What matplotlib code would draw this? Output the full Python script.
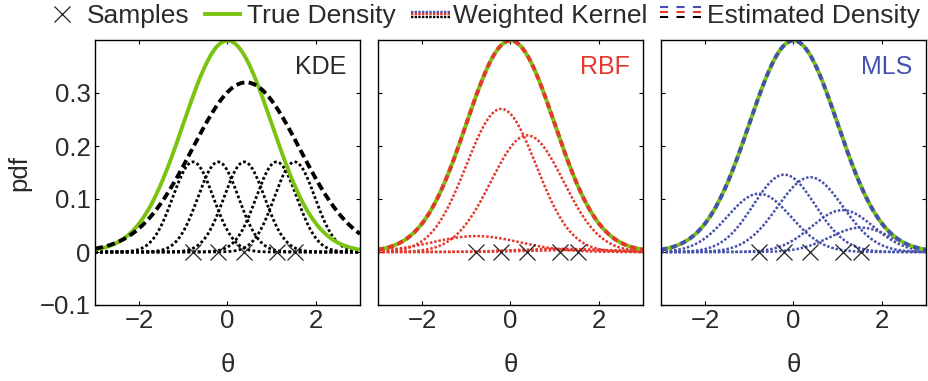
import numpy as np
import matplotlib
matplotlib.use("Agg")
import matplotlib.pyplot as plt

plt.rcParams['font.family'] = ['Liberation Sans', 'DejaVu Sans']
plt.rcParams['font.size'] = 18.5

# === data ===
samples = [-0.78, -0.21, 0.38, 1.11, 1.52]

true_mean = 0.0
true_sd = 1.0

# KDE: kernel peaks / widths, and the estimated density (gaussian-ish)
kde_peaks = [0.17, 0.17, 0.17, 0.17, 0.17]
kde_sds = [0.46, 0.46, 0.46, 0.46, 0.46]
kde_est_mean = 0.42
kde_est_sd = 1.22
kde_est_peak = 0.32

# RBF weighted kernels (centred on the samples)
rbf_peaks = [0.030, 0.270, 0.220, 0.006, 0.004]
rbf_sds = [1.00, 0.79, 0.82, 1.00, 1.00]

# MLS weighted kernels
mls_peaks = [0.110, 0.146, 0.141, 0.079, 0.046]
mls_sds = [0.72, 0.70, 0.74, 0.70, 0.70]

xlim = (-3, 3)
ylim = (-0.1, 0.4)
yticks = [-0.1, 0, 0.1, 0.2, 0.3]
ytick_labels = ['\u22120.1', '0', '0.1', '0.2', '0.3']
xticks = [-2, 0, 2]
xtick_labels = ['\u22122', '0', '2']

legend_labels = ['Samples', 'True Density', 'Weighted Kernel', 'Estimated Density']

GREEN = '#7ac410'
RED = '#e3382b'
BLUE = '#4651ad'
BLACK = '#000000'
TEXT = '#2a2a2a'

x = np.linspace(xlim[0], xlim[1], 600)


def bump(mu, sd, peak):
    return peak * np.exp(-(x - mu) ** 2 / (2 * sd ** 2))


true_pdf = np.exp(-(x - true_mean) ** 2 / (2 * true_sd ** 2)) / (true_sd * np.sqrt(2 * np.pi))

fig = plt.figure(figsize=(9.29, 3.81), dpi=100)

lefts = [95, 378, 661]
panels = [
    ('KDE', BLACK, TEXT, kde_peaks, kde_sds),
    ('RBF', RED, RED, rbf_peaks, rbf_sds),
    ('MLS', BLUE, BLUE, mls_peaks, mls_sds),
]

for i, (name, col, tcol, peaks, sds) in enumerate(panels):
    ax = fig.add_axes([lefts[i] / 929, 76 / 381, 265 / 929, 265 / 381])

    # weighted kernels
    if name == 'KDE':
        k_lw, k_dash = 2.0, (1, 0.85)
    else:
        k_lw, k_dash = 1.8, (1, 0.75)
    for mu, sd, pk in zip(samples, sds, peaks):
        ax.plot(x, bump(mu, sd, pk), color=col, lw=k_lw, dashes=k_dash,
                dash_capstyle='butt')

    # true density
    ax.plot(x, true_pdf, color=GREEN, lw=2.8, solid_capstyle='butt')

    # estimated density
    if name == 'KDE':
        est = bump(kde_est_mean, kde_est_sd, kde_est_peak)
        ax.plot(x, est, color=BLACK, lw=2.8, dashes=(2.1, 1.1), dash_capstyle='butt')
    else:
        ax.plot(x, true_pdf, color=col, lw=2.8, dashes=(1.6, 1.0), dash_capstyle='butt')

    # samples
    ax.plot(samples, np.zeros(len(samples)), linestyle='none', marker='x',
            markersize=11, markeredgewidth=0.9, color='#222222')

    ax.set_xlim(*xlim)
    ax.set_ylim(*ylim)
    ax.set_xticks(xticks)
    ax.set_yticks(yticks)
    ax.tick_params(direction='in', length=3, width=0.8, top=True, right=True,
                   labelsize=18.5, colors='black', labelcolor=TEXT, pad=3)
    ax.set_yticklabels(ytick_labels)
    ax.set_xticklabels(xtick_labels)
    if i > 0:
        ax.tick_params(labelleft=False)
    for sp in ax.spines.values():
        sp.set_linewidth(1.0)
    ax.set_xlabel('\u03b8', color=TEXT, labelpad=14)
    if i == 0:
        ax.set_ylabel('pdf', color=TEXT, labelpad=6)
    ax.text(0.95, 0.90, name, transform=ax.transAxes, ha='right', va='center',
            fontsize=18, color=tcol)

# === legend on top, laid out in pixel coords of an overlay axes ===
lg = fig.add_axes([0, 0, 1, 1], facecolor='none')
lg.set_xlim(0, 929)
lg.set_ylim(381, 0)
lg.axis('off')

text_x = [87, 247, 453, 707]
base_y = 23
for tx, lab in zip(text_x, legend_labels):
    lg.text(tx, base_y, lab, fontsize=19, color=TEXT, va='baseline', ha='left')

# samples marker
lg.plot([62], [14], linestyle='none', marker='x', markersize=11,
        markeredgewidth=0.9, color='#222222')
# true density
lg.plot([203, 242], [14, 14], color=GREEN, lw=2.8, solid_capstyle='butt')
# weighted kernel: three thin dotted rows
for yy, c in zip([11.5, 14.2, 16.9], [BLUE, RED, BLACK]):
    lg.plot([411, 451], [yy, yy], color=c, lw=1.7, dashes=(1, 0.55),
            dash_capstyle='butt')
# estimated density: three dashed rows
for yy, c in zip([6.8, 11.9, 17.0], [BLUE, RED, BLACK]):
    lg.plot([660, 702], [yy, yy], color=c, lw=1.5, dashes=(3.9, 4.0),
            dash_capstyle='butt')

plt.savefig('out.png', dpi=100)
plt.close()
